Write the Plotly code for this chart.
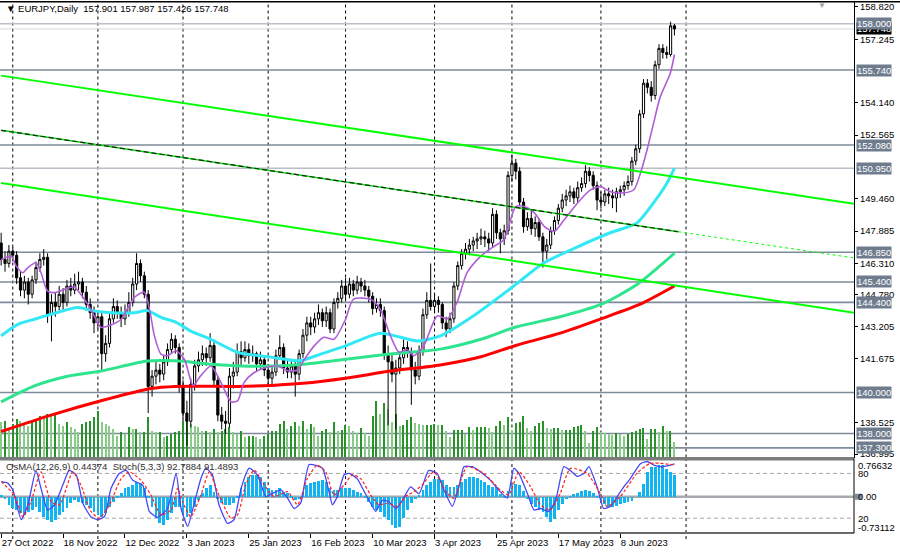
import plotly.graph_objects as go

# EURJPY daily bars, first bar = 27 Oct 2022
open_ = [
    147.3, 146.5, 146.3, 146.9, 146.7, 145.6, 145.0, 145.4, 144.8, 145.5,
    146.1, 146.5, 146.6, 143.8, 144.4, 144.2, 144.8, 144.4, 145.2, 145.0,
    145.3, 145.4, 144.9, 144.3, 143.9, 143.4, 143.7, 141.9, 142.4, 143.6,
    144.2, 143.9, 143.6, 143.9, 144.4, 145.3, 146.3, 145.7, 144.8, 140.3,
    140.8, 141.1, 140.9, 141.5, 142.1, 142.6, 142.2, 140.3, 139.0, 138.6,
    140.4, 141.3, 141.6, 141.9, 141.7, 142.3, 140.6, 138.9, 138.6, 138.5,
    140.8, 141.0, 142.0, 141.7, 142.1, 141.8, 141.9, 141.4, 141.6, 141.1,
    140.7, 141.0, 141.8, 142.2, 141.2, 141.0, 141.3, 140.9, 141.9, 142.8,
    143.4, 143.2, 143.6, 143.9, 143.5, 143.9, 143.1, 144.4, 144.6, 145.2,
    144.8, 145.3, 145.0, 145.4, 145.2, 145.0, 144.7, 144.1, 144.3, 144.0,
    141.9, 141.5, 140.9, 141.2, 141.7, 142.2, 142.0, 141.1, 140.8, 142.0,
    143.8, 144.5, 144.2, 144.5, 144.3, 143.4, 143.1, 143.6, 145.2, 146.2,
    146.8, 147.0, 147.2, 147.4, 147.5, 147.6, 147.5, 147.3, 148.7, 147.8,
    147.5, 147.9, 150.6, 151.2, 150.8, 149.3, 148.1, 148.5, 148.0, 148.3,
    147.6, 146.9, 147.2, 147.9, 148.4, 149.0, 149.4, 149.6, 149.8, 149.5,
    150.0, 150.2, 150.8, 150.6, 150.1, 149.4, 149.3, 149.7, 149.6, 149.5,
    149.8, 149.9, 150.1, 150.3, 151.3, 151.9, 153.6, 155.1, 154.9, 154.5,
    156.0, 156.8, 156.6, 156.5, 157.901]
high = [
    147.8, 146.9, 147.2, 147.1, 146.9, 145.9, 145.7, 145.6, 145.7, 146.4,
    146.8, 147.0, 146.8, 144.8, 144.9, 145.2, 145.1, 145.5, 145.6, 145.8,
    145.9, 145.6, 145.2, 144.6, 144.2, 144.0, 143.9, 142.8, 143.9, 144.6,
    144.5, 144.2, 144.3, 144.9, 145.6, 146.8, 146.5, 145.9, 145.0, 141.1,
    141.5, 141.4, 141.8, 142.4, 142.9, 142.8, 142.4, 140.6, 139.6, 140.7,
    141.6, 142.0, 142.3, 142.2, 142.9, 142.5, 140.8, 139.3, 139.1, 141.2,
    141.5, 142.4, 142.5, 142.5, 142.4, 142.3, 142.0, 142.0, 141.8, 141.4,
    141.3, 142.1, 142.8, 142.4, 141.6, 141.6, 141.5, 142.1, 143.1, 143.7,
    143.7, 143.9, 144.3, 144.1, 144.2, 144.1, 144.6, 144.9, 145.5, 145.6,
    145.6, 145.5, 145.7, 145.6, 145.5, 145.2, 144.9, 144.6, 144.6, 144.2,
    142.3, 141.9, 141.6, 142.0, 142.6, 142.5, 142.2, 141.5, 142.3, 144.1,
    144.9, 146.3, 144.8, 144.7, 144.4, 143.7, 143.9, 145.4, 146.4, 147.0,
    147.3, 147.5, 147.6, 147.8, 148.0, 147.9, 147.8, 149.0, 148.9, 148.0,
    148.2, 150.8, 151.6, 151.4, 151.0, 149.5, 148.8, 148.9, 148.6, 148.5,
    147.8, 147.5, 148.1, 148.6, 149.2, 149.7, 149.9, 150.1, 150.0, 150.3,
    150.5, 151.1, 151.0, 150.8, 150.3, 149.8, 149.9, 150.0, 149.9, 150.0,
    150.1, 150.3, 150.6, 151.5, 152.1, 153.8, 155.3, 155.3, 155.2, 156.2,
    157.0, 157.0, 156.9, 158.1, 157.987]
low = [
    146.2, 145.9, 146.1, 146.4, 145.3, 144.7, 144.6, 144.3, 144.6, 145.3,
    145.9, 146.2, 143.4, 142.5, 143.7, 144.0, 144.0, 144.2, 144.7, 144.8,
    145.0, 144.6, 144.0, 143.6, 142.9, 143.1, 141.1, 141.5, 142.2, 143.4,
    143.6, 143.2, 143.3, 143.7, 144.2, 145.0, 145.4, 144.6, 139.0, 139.8,
    140.4, 140.5, 140.6, 141.3, 141.9, 141.9, 140.0, 138.7, 137.4, 138.3,
    140.1, 141.0, 141.3, 141.3, 141.5, 140.3, 138.6, 138.2, 138.0, 138.3,
    140.2, 140.8, 141.3, 141.5, 141.4, 141.5, 141.0, 141.1, 140.8, 140.3,
    140.4, 140.8, 141.6, 140.9, 140.7, 140.7, 139.8, 140.6, 141.7, 142.5,
    142.8, 142.9, 143.3, 143.2, 143.2, 142.9, 142.9, 144.1, 144.4, 144.5,
    144.6, 144.7, 144.8, 144.9, 144.7, 144.4, 143.8, 143.9, 143.7, 141.6,
    138.4, 140.5, 138.2, 140.9, 141.4, 141.7, 139.4, 140.4, 140.6, 141.8,
    143.6, 144.0, 143.9, 143.9, 143.1, 142.7, 142.9, 143.4, 145.0, 146.0,
    146.5, 146.7, 146.9, 147.0, 147.2, 147.1, 146.9, 147.1, 147.5, 146.8,
    147.2, 147.7, 150.3, 150.4, 149.1, 147.8, 147.9, 147.7, 147.6, 147.4,
    146.1, 146.5, 147.0, 147.7, 148.2, 148.8, 149.1, 149.3, 149.2, 149.3,
    149.8, 150.0, 150.3, 149.9, 148.9, 149.0, 149.1, 149.2, 149.0, 148.8,
    149.5, 149.6, 149.9, 150.1, 151.1, 151.7, 153.4, 154.6, 154.2, 154.3,
    155.8, 156.3, 156.3, 156.4, 157.426]
close = [
    146.5, 146.3, 146.9, 146.7, 145.6, 145.0, 145.4, 144.8, 145.5, 146.1,
    146.5, 146.6, 143.8, 144.4, 144.2, 144.8, 144.4, 145.2, 145.0, 145.3,
    145.4, 144.9, 144.3, 143.9, 143.4, 143.7, 141.9, 142.4, 143.6, 144.2,
    143.9, 143.6, 143.9, 144.4, 145.3, 146.3, 145.7, 144.8, 140.3, 140.8,
    141.1, 140.9, 141.5, 142.1, 142.6, 142.2, 140.3, 139.0, 138.6, 140.4,
    141.3, 141.6, 141.9, 141.7, 142.3, 140.6, 138.9, 138.6, 138.5, 140.8,
    141.0, 142.0, 141.7, 142.1, 141.8, 141.9, 141.4, 141.6, 141.1, 140.7,
    141.0, 141.8, 142.2, 141.2, 141.0, 141.3, 140.9, 141.9, 142.8, 143.4,
    143.2, 143.6, 143.9, 143.5, 143.9, 143.1, 144.4, 144.6, 145.2, 144.8,
    145.3, 145.0, 145.4, 145.2, 145.0, 144.7, 144.1, 144.3, 144.0, 141.9,
    141.5, 140.9, 141.2, 141.7, 142.2, 142.0, 141.1, 140.8, 142.0, 143.8,
    144.5, 144.2, 144.5, 144.3, 143.4, 143.1, 143.6, 145.2, 146.2, 146.8,
    147.0, 147.2, 147.4, 147.5, 147.6, 147.5, 147.3, 148.7, 147.8, 147.5,
    147.9, 150.6, 151.2, 150.8, 149.3, 148.1, 148.5, 148.0, 148.3, 147.6,
    146.9, 147.2, 147.9, 148.4, 149.0, 149.4, 149.6, 149.8, 149.5, 150.0,
    150.2, 150.8, 150.6, 150.1, 149.4, 149.3, 149.7, 149.6, 149.5, 149.8,
    149.9, 150.1, 150.3, 151.3, 151.9, 153.6, 155.1, 154.9, 154.5, 156.0,
    156.8, 156.6, 156.5, 157.9, 157.748]
volume = [
    178, 185, 145, 170, 195, 185, 170, 160, 180, 195,
    210, 205, 220, 210, 220, 170, 160, 180, 155, 145,
    130, 170, 180, 185, 205, 235, 180, 170, 160, 145,
    110, 130, 120, 155, 145, 145, 130, 130, 205, 135,
    130, 130, 105, 110, 120, 130, 135, 185, 185, 170,
    160, 155, 135, 135, 130, 145, 130, 135, 145, 155,
    130, 120, 135, 105, 110, 110, 105, 95, 110, 120,
    135, 135, 170, 185, 145, 160, 180, 160, 185, 145,
    170, 155, 110, 135, 145, 130, 180, 135, 140, 165,
    160, 135, 125, 150, 125, 110, 210, 285, 220, 275,
    245, 180, 220, 160, 165, 190, 205, 175, 170, 165,
    165, 165, 170, 165, 165, 135, 105, 140, 140, 140,
    120, 155, 140, 155, 155, 155, 150, 130, 160, 185,
    165, 205, 140, 175, 180, 210, 150, 135, 160, 175,
    185, 150, 145, 150, 150, 140, 140, 140, 155, 160,
    165, 135, 75, 135, 155, 130, 125, 120, 115, 125,
    120, 110, 120, 130, 135, 145, 150, 95, 145, 145,
    130, 160, 135, 135, 80]

date_ticks = [0, 16, 32, 48, 64, 80, 96, 112, 128, 144, 160]
date_labels = ["27 Oct 2022", "18 Nov 2022", "12 Dec 2022", "3 Jan 2023", "25 Jan 2023",
               "16 Feb 2023", "10 Mar 2023", "3 Apr 2023", "25 Apr 2023", "17 May 2023",
               "8 Jun 2023"]
month_starts = [3, 25, 47, 69, 89, 112, 132, 155, 177]

# moving averages, sampled from the chart
ma_fast_x = [0, 2.6, 3.9, 5.6, 6.9, 9.0, 10.3, 12.0, 13.8, 17.2, 18.9, 20.6, 23.2, 25.8, 28.4,
             31.0, 34.4, 37.0, 38.5, 39.6, 41.3, 43.0, 45.2, 47.4, 49.6, 51.6, 54.2, 56.8,
             59.4, 61.1, 62.8, 65.4, 68.0, 71.4, 74.0, 76.6, 78.3, 80.9, 83.4, 86.0, 89.0,
             91.0, 95.5, 98.0, 100.6, 102.8, 104.9, 106.6, 109.2, 112.7, 115.3, 117.8, 120.4,
             123.9, 127.3, 129.9, 133.0, 135.2, 137.8, 140.4, 142.9, 145.5, 148.9, 152.3,
             154.9, 157.5, 160.9, 163.5, 165.2, 166.9, 168.6, 170.3, 172.9, 174]
ma_fast = [146.49, 146.65, 146.17, 145.85, 146.1, 146.33, 145.85, 144.95, 144.88, 145.1,
           145.15, 144.79, 144.06, 143.19, 143.3, 143.58, 144.64, 144.9, 143.9, 142.77,
           141.88, 141.8, 142.04, 141.6, 140.34, 140.83, 141.3, 140.5, 139.55, 139.6,
           140.5, 140.98, 141.2, 141.3, 141.07, 141.1, 141.6, 142.28, 142.7, 142.6,
           143.58, 144.55, 144.55, 144.06, 142.77, 141.97, 142.1, 141.8, 142.28, 143.74,
           143.6, 144.4, 145.85, 146.65, 147.13, 147.46, 149.08, 149.08, 148.77, 148.1,
           147.86, 148.43, 149.24, 149.89, 150.05, 149.8, 149.75, 149.9, 150.7, 151.83,
           153.14, 154.42, 155.57, 156.5]
ma50_x = [0, 4.3, 8.6, 12.9, 19.8, 24.1, 28.4, 34.4, 37.8, 41.3, 45.2, 49, 54.2, 61, 69.7,
          77, 82.6, 89, 98, 107.5, 113.5, 122, 133, 140, 148.8, 157.4, 164.3, 168.6, 172, 174]
ma50 = [142.77, 143.33, 143.58, 143.82, 144.15, 143.98, 143.9, 143.9, 144.0, 143.67, 143.43,
        143.0, 142.6, 141.97, 141.73, 141.55, 141.88, 142.28, 142.9, 142.52, 142.77, 143.74,
        145.28, 146.3, 147.1, 147.8, 148.28, 149.26, 150.2, 150.95]
ma144_x = [0, 8.6, 17.2, 25.8, 37.8, 45, 53.5, 62, 70.5, 79, 88, 100.5, 113.5, 124, 133,
           144.5, 155, 164.5, 174]
ma144 = [139.55, 140.33, 140.8, 141.05, 141.54, 141.55, 141.4, 141.3, 141.3, 141.4, 141.6,
         141.88, 142.12, 142.6, 143.2, 143.7, 144.3, 145.3, 146.8]
ma200_x = [0, 12.9, 25.8, 38.7, 45, 61, 70, 78, 89, 100.6, 113.5, 124, 133, 144.5, 155, 165, 174]
ma200 = [138.1, 138.9, 139.6, 140.2, 140.3, 140.3, 140.35, 140.45, 140.7, 141.05, 141.35,
         141.75, 142.3, 142.9, 143.6, 144.3, 145.2]

# descending channel
chan_x = [0, 220.4]
chan_upper = [155.47, 149.21]
chan_lower = [150.23, 143.9]
chan_mid_x = [0, 175, 220.4]
chan_mid = [152.8, 147.85, 146.57]

levels = [158.0, 155.74, 152.08, 150.95, 146.85, 145.4, 144.4, 140.0, 138.0, 137.3]
light_levels = [158.0, 150.95]
price_ticks = [158.82, 157.245, 154.14, 152.565, 149.46, 147.885, 146.31, 144.78,
               143.205, 141.675, 138.525, 136.995]
last_price = 157.748

# OsMA(12,26,9) and Stoch(5,3,3)
osma = [
    0.05, -0.02, -0.15, -0.22, -0.25, -0.32, -0.35, -0.29, -0.25, -0.19,
    -0.29, -0.39, -0.45, -0.49, -0.45, -0.35, -0.29, -0.22, -0.12, -0.05,
    -0.09, -0.12, -0.15, -0.22, -0.29, -0.35, -0.39, -0.32, -0.19, -0.09,
    0.01, 0.08, 0.18, 0.21, 0.25, 0.31, 0.28, 0.18, 0.01, -0.19,
    -0.42, -0.52, -0.55, -0.45, -0.32, -0.19, -0.19, -0.32, -0.39, -0.32,
    -0.19, -0.05, 0.08, 0.18, 0.25, 0.11, -0.02, -0.12, -0.15, -0.15,
    -0.12, 0.01, 0.18, 0.31, 0.41, 0.45, 0.45, 0.40, 0.31, 0.18,
    0.15, 0.15, 0.18, 0.11, 0.08, 0.01, -0.05, -0.02, 0.11, 0.25,
    0.28, 0.31, 0.32, 0.35, 0.31, 0.18, 0.15, 0.15, 0.18, 0.19,
    0.18, 0.15, 0.11, 0.08, 0.01, -0.09, -0.19, -0.25, -0.29, -0.39,
    -0.45, -0.55, -0.62, -0.59, -0.42, -0.25, -0.12, -0.02, 0.05, 0.15,
    0.25, 0.30, 0.37, 0.37, 0.34, 0.24, 0.20, 0.20, 0.24, 0.30,
    0.37, 0.40, 0.40, 0.39, 0.34, 0.30, 0.24, 0.20, 0.20, 0.07,
    0.03, 0.13, 0.24, 0.27, 0.24, 0.13, -0.03, -0.13, -0.20, -0.26,
    -0.30, -0.40, -0.50, -0.43, -0.26, -0.13, -0.03, 0.03, 0.07, 0.08,
    0.12, 0.14, 0.13, 0.08, 0.03, -0.07, -0.13, -0.20, -0.20, -0.17,
    -0.13, -0.12, -0.10, -0.07, 0.00, 0.10, 0.27, 0.50, 0.60, 0.60,
    0.64, 0.64, 0.57, 0.50, 0.44374]
stoch_x = [0, 1.7, 3.0, 5.2, 6.9, 9.0, 10.3, 12.0, 13.8, 15.9, 17.6, 19.4, 21.1, 23.2, 24.9,
           26.7, 28.4, 30.5, 32.3, 34.0, 36.6, 38.3, 40.4, 43.0, 45.2, 46.5, 48.2, 49.9,
           51.6, 52.9, 54.6, 56.3, 58.5, 60.2, 62.0, 64.1, 66.2, 68.4, 70.1, 72.3, 74.0,
           75.7, 77.4, 79.6, 83.0, 84.7, 85.6, 86.9, 88.6, 89.9, 92.0, 93.8, 95.5, 96.8,
           98.5, 100.2, 102.0, 103.7, 105.8, 108.0, 110.5, 112.7, 114.4, 116.6, 118.3,
           119.6, 121.7, 123.9, 126.4, 128.2, 130.8, 132.5, 133.8, 136.0, 137.7, 139.4,
           141.5, 143.3, 145.4, 147.1, 148.9, 150.6, 151.9, 154.0, 155.7, 157.5, 159.2,
           160.9, 162.6, 165.2, 167.0, 168.7, 170.4, 172.2, 174.0]
stoch_main = [69, 67, 58, 18, 38, 84, 60, 31, 38, 64, 84, 78, 40, 22, 18, 22, 60, 80, 84, 71,
              64, 29, 21, 33, 80, 33, 9, 40, 73, 87, 78, 38, 13, 18, 60, 87, 78, 49, 53, 58,
              47, 33, 40, 92, 87, 56, 38, 49, 78, 80, 73, 56, 40, 29, 44, 42, 33, 44, 62, 53,
              84, 80, 58, 36, 62, 89, 89, 82, 71, 60, 47, 87, 80, 53, 31, 33, 29, 44, 89, 84,
              76, 80, 89, 62, 33, 36, 49, 62, 73, 93, 96, 91, 89, 90, 92.79]
signal_x = [0, 3.4, 5.6, 7.7, 10.3, 12.9, 15.1, 18.5, 20.6, 23.2, 25.4, 28.0, 31.0, 33.1,
            36.1, 38.7, 41.3, 43.9, 45.6, 46.9, 49.0, 51.6, 53.8, 55.9, 59.4, 61.1, 63.2,
            65.4, 68.0, 70.5, 74.0, 76.6, 79.1, 81.7, 83.9, 86.0, 88.6, 90.8, 92.9, 95.5,
            97.6, 99.8, 102.4, 104.5, 106.7, 108.8, 111.8, 115.3, 117.0, 120.4, 124.7,
            129.0, 131.2, 133.8, 136.8, 139.4, 141.9, 144.5, 147.1, 151.4, 154.8, 156.6,
            160.0, 164.3, 167.7, 174.0]
stoch_signal = [69, 51, 22, 42, 82, 42, 38, 82, 64.5, 29, 20, 38, 73, 82, 71, 51, 24.6, 31,
                60, 42, 22, 51, 82, 55.6, 20, 24.6, 64.5, 84.5, 64.5, 49, 55.6, 38, 73, 91,
                82, 51, 64.5, 78, 73, 51, 38, 40, 35.7, 49, 55.6, 64.5, 82, 53.4, 46.7, 89,
                80, 57.9, 51.2, 82.3, 62.3, 38, 31.2, 53.4, 86.7, 80, 53.4, 35.7, 49, 80,
                93.4, 91.49]

W, H = 900, 555
FONT = "Liberation Sans"


def py(px):
    # pixel row -> paper y
    return 1 - px / H


XR = 854 / W
MAIN = [py(459), py(1)]
SUB = [py(535), py(460)]

bars = list(range(len(close)))
vol_colors = ["#2A922A" if i > 0 and volume[i] >= volume[i - 1] else "#88CA88" for i in bars]

fig = go.Figure()

fig.add_trace(go.Bar(x=bars, y=volume, xaxis="x", yaxis="y", width=0.32,
                     marker=dict(color=vol_colors, line=dict(width=0)), showlegend=False))

fig.add_trace(go.Candlestick(
    x=bars, open=open_, high=high, low=low, close=close, xaxis="x", yaxis="y3",
    increasing=dict(line=dict(color="black", width=1), fillcolor="white"),
    decreasing=dict(line=dict(color="black", width=1), fillcolor="black"),
    whiskerwidth=0, showlegend=False))

for xs, ys, col, w in [(ma200_x, ma200, "#FF0000", 3),
                       (ma144_x, ma144, "#2EE58E", 3),
                       (ma50_x, ma50, "#33E8F5", 3),
                       (ma_fast_x, ma_fast, "#B05ED8", 1.6)]:
    fig.add_trace(go.Scatter(x=xs, y=ys, xaxis="x", yaxis="y3", mode="lines",
                             line=dict(color=col, width=w, shape="spline", smoothing=0.7),
                             showlegend=False))

# channel lines
for ys in [chan_upper, chan_lower]:
    fig.add_trace(go.Scatter(x=chan_x, y=ys, xaxis="x", yaxis="y3", mode="lines",
                             line=dict(color="#00FF00", width=2), showlegend=False))
fig.add_trace(go.Scatter(x=chan_mid_x[:2], y=chan_mid[:2], xaxis="x", yaxis="y3", mode="lines",
                         line=dict(color="#00E000", width=1.5), showlegend=False))
fig.add_trace(go.Scatter(x=chan_mid_x[:2], y=chan_mid[:2], xaxis="x", yaxis="y3", mode="lines",
                         line=dict(color="#202020", width=1.2, dash="5px,3px"), showlegend=False))
fig.add_trace(go.Scatter(x=chan_mid_x[1:], y=chan_mid[1:], xaxis="x", yaxis="y3", mode="lines",
                         line=dict(color="#00FF00", width=1, dash="3px,3px"), showlegend=False))

# oscillator window
fig.add_trace(go.Bar(x=bars, y=osma, xaxis="x2", yaxis="y2", width=0.72,
                     marker=dict(color="#10B4F0", line=dict(width=0)), showlegend=False))
fig.add_trace(go.Scatter(x=stoch_x, y=stoch_main, xaxis="x2", yaxis="y4", mode="lines",
                         line=dict(color="#4646F5", width=1.3, shape="spline", smoothing=0.5),
                         showlegend=False))
fig.add_trace(go.Scatter(x=signal_x, y=stoch_signal, xaxis="x2", yaxis="y4", mode="lines",
                         line=dict(color="#FF2020", width=1.2, dash="3px,2px", shape="spline",
                                   smoothing=0.6),
                         showlegend=False))

shapes = []
for m in month_starts:
    shapes.append(dict(type="line", xref="x", yref="paper", x0=m, x1=m, y0=MAIN[0], y1=MAIN[1],
                       line=dict(color="black", width=1, dash="3px,3px"), layer="below"))
    shapes.append(dict(type="line", xref="x", yref="paper", x0=m, x1=m, y0=py(541), y1=SUB[1],
                       line=dict(color="black", width=1, dash="3px,3px"), layer="below"))
for lv in levels:
    col = "#BABEC6" if lv in light_levels else "#7F8A9A"
    shapes.append(dict(type="line", xref="paper", yref="y3", x0=0, x1=XR, y0=lv, y1=lv,
                       line=dict(color=col, width=1.6), layer="below"))
shapes.append(dict(type="line", xref="paper", yref="y3", x0=0, x1=XR, y0=last_price,
                   y1=last_price, line=dict(color="#D8D8D8", width=1), layer="below"))
for lv in [80, 20]:
    shapes.append(dict(type="line", xref="paper", yref="y4", x0=0, x1=XR, y0=lv, y1=lv,
                       line=dict(color="#A8A8A8", width=1, dash="4px,3px"), layer="below"))
shapes.append(dict(type="line", xref="paper", yref="y2", x0=0, x1=XR, y0=0, y1=0,
                   line=dict(color="#A8A8B0", width=2.5), layer="below"))
# frames
shapes.append(dict(type="line", xref="paper", yref="paper", x0=0, x1=1, y0=py(0.8), y1=py(0.8),
                   line=dict(color="black", width=1.5)))
shapes.append(dict(type="rect", xref="paper", yref="paper", x0=0, x1=XR, y0=py(462), y1=py(458.5),
                   fillcolor="#7C7C7C", line=dict(width=0)))
shapes.append(dict(type="line", xref="paper", yref="paper", x0=0, x1=XR, y0=py(535), y1=py(535),
                   line=dict(color="#6A6A6A", width=2)))
shapes.append(dict(type="line", xref="paper", yref="paper", x0=XR, x1=XR, y0=py(535), y1=py(460),
                   line=dict(color="black", width=1)))
shapes.append(dict(type="rect", xref="paper", yref="y2", x0=XR + 0.001, x1=XR + 0.009,
                   y0=-0.06, y1=0.06, fillcolor="#7F8A9A", line=dict(width=0)))

ann = []
lab_font = dict(family=FONT, size=9.5, color="white")
ann.append(dict(xref="paper", yref="y3", x=XR + 0.002, y=last_price, xanchor="left",
                yanchor="middle", text=f"{last_price:.3f}", showarrow=False,
                bgcolor="black", font=lab_font, borderpad=0))
for lv in levels:
    ann.append(dict(xref="paper", yref="y3", x=XR + 0.002, y=lv, xanchor="left",
                    yanchor="middle", text=f"{lv:.3f}", showarrow=False,
                    bgcolor="#6E7C8E", font=lab_font, borderpad=0))
ann.append(dict(xref="paper", yref="paper", x=0.004, y=py(8), xanchor="left", yanchor="middle",
                text="▼ EURJPY,Daily  157.901 157.987 157.426 157.748", showarrow=False,
                font=dict(family=FONT, size=9.5, color="black")))
ann.append(dict(xref="paper", yref="paper", x=822 / W, y=py(5), xanchor="center",
                yanchor="middle", text="▼", showarrow=False,
                font=dict(family=FONT, size=8, color="#A0A0A0")))
ann.append(dict(xref="paper", yref="paper", x=0.004, y=py(468), xanchor="left", yanchor="middle",
                text="OsMA(12,26,9) 0.44374  Stoch(5,3,3) 92.7884 91.4893", showarrow=False,
                font=dict(family=FONT, size=9.5, color="#303030")))
sub_font = dict(family=FONT, size=9.5, color="black")
for txt, yref, yv in [("0.76632", "paper", py(467)), ("80", "y4", 80), ("0.00", "y2", 0),
                      ("20", "y4", 20), ("-0.73112", "paper", py(529))]:
    ann.append(dict(xref="paper", yref=yref, x=XR + 0.002, y=yv, xanchor="left",
                    yanchor="middle", text=txt, showarrow=False, font=sub_font))

fig.update_layout(
    width=W, height=H, margin=dict(l=0, r=0, t=0, b=0),
    paper_bgcolor="white", plot_bgcolor="white", showlegend=False, bargap=0, boxgap=0.2,
    font=dict(family=FONT, size=9.5, color="black"),
    xaxis=dict(domain=[0, XR], range=[-0.3, 220.4], anchor="y", visible=False,
               rangeslider=dict(visible=False), fixedrange=True),
    yaxis=dict(domain=MAIN, range=[0, 2290], visible=False, fixedrange=True),
    yaxis3=dict(overlaying="y", anchor="x", side="right", range=[136.83, 159.063],
                tickvals=price_ticks, ticktext=[f"{v:.3f}" for v in price_ticks],
                ticks="outside", ticklen=3, tickcolor="black", showline=True,
                linecolor="black", linewidth=1, showgrid=False, zeroline=False,
                tickfont=dict(family=FONT, size=9.5, color="black")),
    xaxis2=dict(domain=[0, XR], matches="x", anchor="y2", tickvals=date_ticks,
                ticktext=date_labels, ticks="outside", ticklen=4, tickcolor="black",
                ticklabelposition="outside right", tickangle=0, showgrid=False,
                zeroline=False, showline=False,
                tickfont=dict(family=FONT, size=9.5, color="black")),
    yaxis2=dict(domain=SUB, anchor="x2", range=[-0.73112, 0.76632], visible=False),
    yaxis4=dict(overlaying="y2", anchor="x2", range=[0, 100], visible=False),
    shapes=shapes, annotations=ann,
)

# the page body has a default margin; drop it so the figure sits at the window's corner
fig.write_html("out.html", config={"displayModeBar": False},
               post_script="document.body.style.margin='0';document.body.style.overflow='hidden';")
